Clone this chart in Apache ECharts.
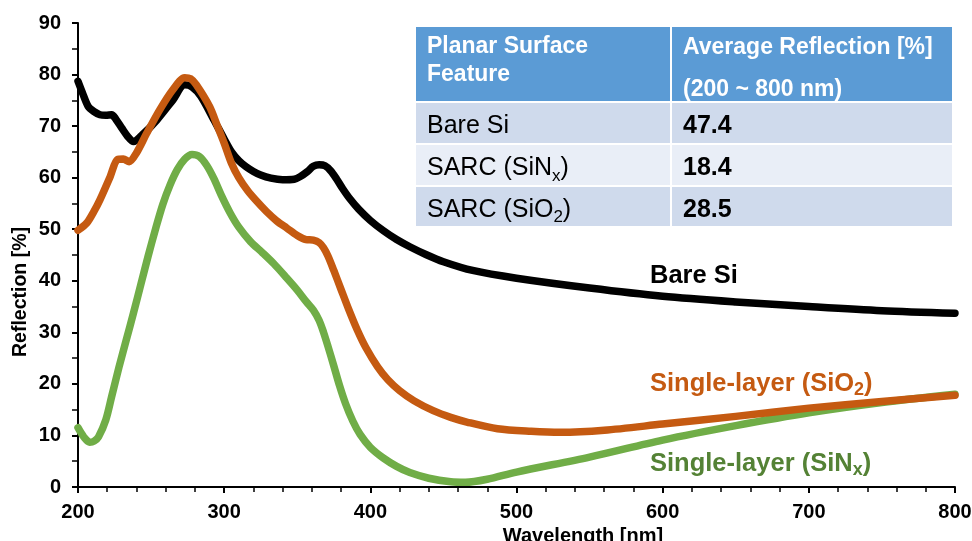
<!DOCTYPE html>
<html>
<head>
<meta charset="utf-8">
<script src="https://cdn.jsdelivr.net/npm/echarts@6/dist/echarts.min.js"></script>
<style>
  html, body { margin: 0; padding: 0; background: #fff; }
  #container { width: 972px; height: 541px; }
</style>
</head>
<body>
<div id="container"></div>
<script>
// reflection spectra, [wavelength nm, reflection %]
var bareSi = [
    [200,78.7],[203,76.5],[207,73.8],[211,72.8],[215,72.2],[219,72.1],[223,72.2],[226,71.3],
    [230,69.6],[234,68.0],[238,67.0],[244,68.3],[254,71.2],[265,75.1],[273,78.0],[278,77.6],
    [284,75.8],[293,71.2],[300,67.5],[305,65.0],[310,63.3],[315,62.1],[320,61.2],[325,60.5],
    [332,59.9],[340,59.6],[348,59.7],[352,60.2],[357,61.2],[361,62.2],[365,62.5],[369,62.3],
    [373,61.3],[377,59.7],[381,57.9],[386,55.9],[392,53.9],[400,51.7],[409,49.7],[418,48.0],
    [427,46.6],[438,45.1],[450,43.7],[470,42.0],[500,40.5],[550,38.6],[600,37.0],[650,35.9],
    [700,35.0],[750,34.2],[800,33.7]
];
var singleSiO2 = [
    [200,49.8],[206,51.2],[211,53.5],[215,55.7],[222,60.2],[227,63.5],[231,63.6],[235,63.1],
    [240,64.8],[247,68.6],[256,73.2],[265,77.1],[273,79.4],[277,79.2],[281,78.0],[290,73.8],
    [295,70.3],[300,66.7],[305,62.8],[310,60.0],[316,57.5],[322,55.5],[329,53.4],[336,51.6],
    [343,50.2],[350,48.8],[356,48.0],[361,47.9],[365,47.4],[368,46.4],[371,44.8],[375,42.0],
    [380,38.3],[385,34.6],[391,30.5],[397,27.0],[405,23.3],[412,20.8],[420,18.7],[430,16.7],
    [443,14.8],[455,13.5],[466,12.6],[487,11.3],[510,10.8],[530,10.6],[560,11.0],[600,12.2],
    [650,13.7],[700,15.3],[750,16.6],[800,17.8]
];
var singleSiNx = [
    [200,11.5],[204,9.7],[208,8.7],[211,8.9],[214,9.7],[219,13.0],[223,17.5],[228,23.2],
    [233,28.5],[238,33.8],[243,39.3],[248,44.8],[253,50.0],[258,54.8],[263,58.6],[268,61.6],
    [273,63.6],[278,64.5],[283,64.1],[288,62.4],[293,59.8],[298,56.6],[304,53.2],[310,50.4],
    [318,47.6],[326,45.5],[334,43.3],[342,40.8],[350,38.2],[356,36.0],[361,34.3],[365,32.3],
    [368,30.0],[371,27.3],[375,23.5],[379,19.6],[383,16.2],[388,12.8],[393,10.2],[400,7.7],
    [409,5.6],[418,4.0],[427,2.8],[440,1.7],[455,1.0],[465,0.9],[480,1.5],[500,2.9],
    [550,5.8],[600,9.1],[650,11.9],[700,14.4],[750,16.4],[800,18.0]
];

// inset table
var tableHead = [['Planar Surface', 'Feature'], ['Average Reflection [%]', '(200 ~ 800 nm)']];
var tableNames = ['{a|Bare Si}', '{a|SARC (SiN}{s|x}{a|)}', '{a|SARC (SiO}{s|2}{a|)}'];
var tableValues = ['47.4', '18.4', '28.5'];

var FONT = 'Liberation Sans, Arial, sans-serif';

var myChart = echarts.init(document.getElementById('container'));

// table geometry (pixels)
var tx0 = 416, tx1 = 671, tx2 = 952;
var rowEdges = [27, 103, 145, 187, 228];
var rowFills = ['#5B9BD5', '#CFDAEC', '#E9EEF7', '#CFDAEC'];
var headLineY = [[47, 75], [48, 90]];
var colX = [427, 683];

var graphics = [];
for (var r = 0; r < 4; r++) {
    var y0 = rowEdges[r], h = rowEdges[r + 1] - rowEdges[r] - 2;
    graphics.push({type: 'rect', shape: {x: tx0, y: y0, width: tx1 - tx0 - 1, height: h}, style: {fill: rowFills[r]}, z: 10});
    graphics.push({type: 'rect', shape: {x: tx1 + 1, y: y0, width: tx2 - tx1 - 1, height: h}, style: {fill: rowFills[r]}, z: 10});
}
for (var c = 0; c < 2; c++) {
    for (var k = 0; k < 2; k++) {
        graphics.push({type: 'text', x: colX[c], y: headLineY[c][k], z: 11,
            style: {text: tableHead[c][k], font: 'bold 23px ' + FONT, fill: '#fff', verticalAlign: 'middle'}});
    }
}
var subRich = {
    a: {fontFamily: FONT, fontSize: 25, fill: '#000', lineHeight: 32},
    b: {fontFamily: FONT, fontSize: 25, fontWeight: 'bold', fill: '#000', lineHeight: 32},
    s: {fontFamily: FONT, fontSize: 17, fill: '#000', lineHeight: 17, verticalAlign: 'bottom'}
};
for (var i = 0; i < tableNames.length; i++) {
    var cy = (rowEdges[i + 1] + rowEdges[i + 2] - 2) / 2 + 3.5;
    graphics.push({type: 'text', x: colX[0], y: cy, z: 11,
        style: {text: tableNames[i], rich: subRich, verticalAlign: 'middle'}});
    graphics.push({type: 'text', x: colX[1], y: cy, z: 11,
        style: {text: '{b|' + tableValues[i] + '}', rich: subRich, verticalAlign: 'middle'}});
}

// curve labels
function curveLabel(txt, x, y, color) {
    return {
        type: 'text', x: x, y: y, z: 11,
        style: {
            text: txt, verticalAlign: 'middle', fill: color,
            rich: {
                m: {fontFamily: FONT, fontSize: 25.5, fontWeight: 'bold', fill: color, lineHeight: 31},
                s: {fontFamily: FONT, fontSize: 18, fontWeight: 'bold', fill: color, lineHeight: 18, verticalAlign: 'bottom'}
            }
        }
    };
}
graphics.push(curveLabel('{m|Bare Si}', 650, 276, '#000'));
graphics.push(curveLabel('{m|Single-layer (SiO}{s|2}{m|)}', 650, 384, '#C55A11'));
graphics.push(curveLabel('{m|Single-layer (SiN}{s|x}{m|)}', 650, 464, '#548235'));

// axis names
graphics.push({type: 'text', x: 21, y: 292, rotation: Math.PI / 2, z: 11,
    style: {text: 'Reflection [%]', font: 'bold 19.5px ' + FONT, fill: '#000', align: 'center', verticalAlign: 'middle'}});
graphics.push({type: 'text', x: 583, y: 536, z: 11,
    style: {text: 'Wavelength [nm]', font: 'bold 20px ' + FONT, fill: '#000', align: 'center', verticalAlign: 'middle'}});

var lineSeries = function (name, data, color) {
    return {
        name: name, type: 'line', data: data, smooth: 0.3,
        symbol: 'none', clip: false,
        lineStyle: {color: color, width: 7.5, cap: 'round', join: 'round'}
    };
};

var option = {
    animation: false,
    grid: {left: 78, right: 17, top: 23, bottom: 54, containLabel: false, outerBoundsMode: 'none'},
    xAxis: {
        type: 'value', min: 200, max: 800, interval: 100,
        axisLine: {show: true, lineStyle: {color: '#000', width: 2}},
        axisTick: {show: true, length: 6, lineStyle: {color: '#000', width: 2}},
        minorTick: {show: true, splitNumber: 5, length: 5, lineStyle: {color: '#000', width: 1.5}},
        splitLine: {show: false},
        axisLabel: {color: '#000', fontFamily: FONT, fontSize: 20, fontWeight: 'bold', margin: 15}
    },
    yAxis: {
        type: 'value', min: 0, max: 90, interval: 10,
        axisLine: {show: true, lineStyle: {color: '#000', width: 2}},
        axisTick: {show: true, length: 6, lineStyle: {color: '#000', width: 2}},
        minorTick: {show: true, splitNumber: 2, length: 6, lineStyle: {color: '#000', width: 1.5}},
        splitLine: {show: false},
        axisLabel: {color: '#000', fontFamily: FONT, fontSize: 20, fontWeight: 'bold', margin: 17}
    },
    series: [
        lineSeries('Bare Si', bareSi, '#000000'),
        lineSeries('Single-layer (SiNx)', singleSiNx, '#70AD47'),
        lineSeries('Single-layer (SiO2)', singleSiO2, '#C55A11')
    ],
    graphic: graphics
};
if (option && typeof option === 'object') {
    myChart.setOption(option);
}
</script>
</body>
</html>
